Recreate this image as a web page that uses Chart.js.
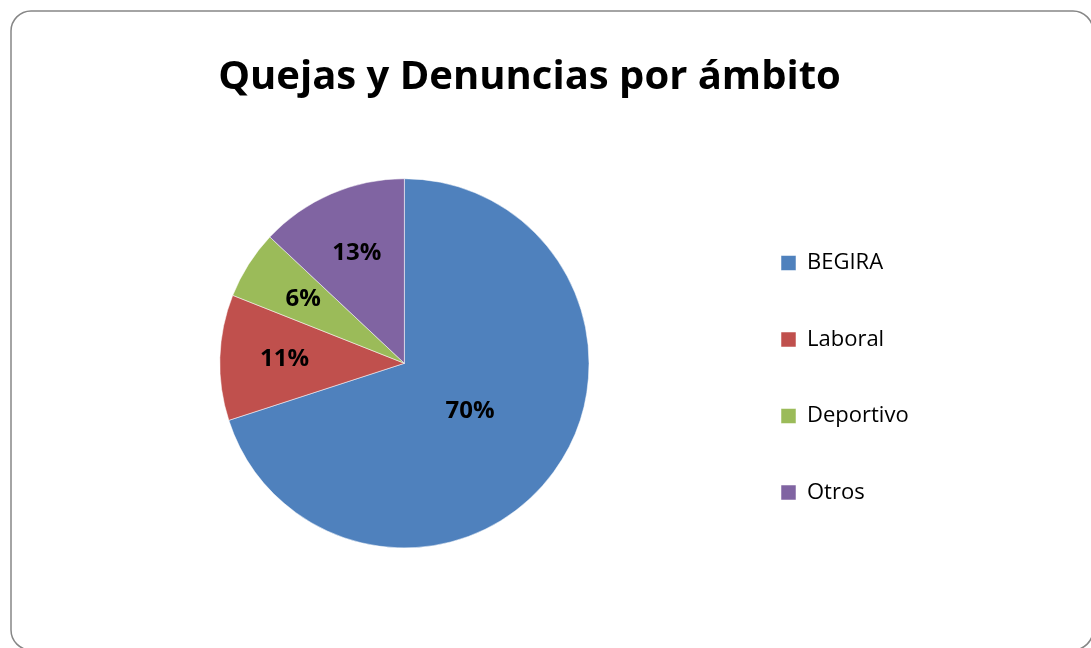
<!DOCTYPE html>
<html lang="es">
<head>
<meta charset="utf-8">
<title>Quejas y Denuncias por ámbito</title>
<script src="https://cdn.jsdelivr.net/npm/chart.js@4.4.1/dist/chart.umd.min.js"></script>
<style>
  html, body { margin: 0; padding: 0; background: #fff; overflow: hidden; }
  #wrap { position: relative; width: 1091px; height: 648px; }
</style>
</head>
<body>
<div id="wrap"><canvas id="quejasChart" width="1091" height="648"></canvas></div>
<script>
// Datos del gráfico
const ambitos = ['BEGIRA', 'Laboral', 'Deportivo', 'Otros'];
const porcentajes = [70, 11, 6, 13];
const colores = ['#4F81BD', '#C0504D', '#9BBB59', '#8064A2'];
const titulo = 'Quejas y Denuncias por ámbito';

const FUENTE = "'Open Sans', 'Liberation Sans', sans-serif";
const ANCHO_LEYENDA = 250.2;

// Marco redondeado gris alrededor del gráfico
const marco = {
    id: 'marco',
    beforeDraw(chart) {
        const ctx = chart.ctx;
        ctx.save();
        ctx.fillStyle = '#fff';
        ctx.fillRect(0, 0, chart.width, chart.height);
        ctx.beginPath();
        ctx.roundRect(11, 11, 1082, 639, 20);
        ctx.lineWidth = 1.5;
        ctx.strokeStyle = '#868686';
        ctx.stroke();
        ctx.restore();
    }
};

// La leyenda de Excel ocupa más ancho que la de Chart.js
const anchoLeyenda = {
    id: 'anchoLeyenda',
    beforeLayout(chart) {
        const legend = chart.legend;
        if (!legend || legend._anchoFijo) return;
        const fitOriginal = legend.fit;
        legend.fit = function () {
            fitOriginal.call(this);
            this.width = ANCHO_LEYENDA;
        };
        legend._anchoFijo = true;
    }
};

// Etiquetas de porcentaje dentro de cada sector
const etiquetas = {
    id: 'etiquetas',
    afterDatasetsDraw(chart) {
        const ctx = chart.ctx;
        const meta = chart.getDatasetMeta(0);
        const datos = chart.data.datasets[0].data;
        const total = datos.reduce((a, b) => a + b, 0);
        ctx.save();
        ctx.font = `bold 24px ${FUENTE}`;
        ctx.fillStyle = '#000';
        ctx.textAlign = 'center';
        ctx.textBaseline = 'middle';
        meta.data.forEach((arc, i) => {
            const pct = datos[i] / total * 100;
            const medio = (arc.startAngle + arc.endAngle) / 2;
            const r = arc.outerRadius * (pct > 50 ? 0.44 : 0.65);
            const x = arc.x + Math.cos(medio) * r;
            const y = arc.y + Math.sin(medio) * r;
            ctx.fillText(Math.round(pct) + '%', x, y);
        });
        ctx.restore();
    }
};

new Chart(document.getElementById('quejasChart'), {
    type: 'pie',
    data: {
        labels: ambitos,
        datasets: [{
            data: porcentajes,
            backgroundColor: colores,
            borderColor: 'rgba(255, 255, 255, 0.5)',
            borderWidth: 1,
            radius: 184.6
        }]
    },
    options: {
        responsive: false,
        animation: false,
        layout: {
            padding: { left: 82.3, right: 114.3, top: 0, bottom: 90 }
        },
        plugins: {
            title: {
                display: true,
                text: titulo,
                color: '#000',
                font: { family: FUENTE, size: 40, weight: 'bold', lineHeight: 1.2 },
                padding: { top: 54, bottom: 66.6 }
            },
            legend: {
                position: 'right',
                align: 'end',
                labels: {
                    boxWidth: 15,
                    boxHeight: 15,
                    padding: 54.5,
                    color: '#000',
                    font: { family: FUENTE, size: 22 }
                }
            },
            tooltip: { enabled: false }
        }
    },
    plugins: [marco, anchoLeyenda, etiquetas]
});
</script>
</body>
</html>
